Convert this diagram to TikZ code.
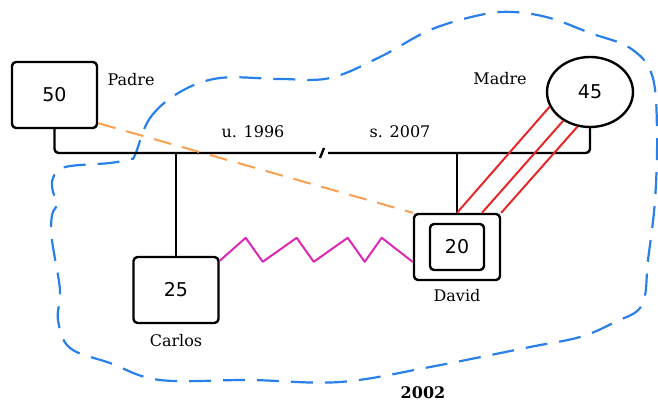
\documentclass[tikz,border=0pt]{standalone}
\usepackage{fontspec}
\setmainfont{DejaVu Serif}
\newfontfamily\numfont{DejaVu Sans}
\usetikzlibrary{shapes.geometric}

\definecolor{blobblue}{RGB}{40,128,232}
\definecolor{hateorange}{RGB}{250,160,80}
\definecolor{tiered}{RGB}{232,40,40}
\definecolor{fightpink}{RGB}{220,40,180}

\begin{document}
\begin{tikzpicture}[x=1pt,y=-1pt,line join=round,
  male/.style={draw,line width=2.4pt,rounded corners=4pt,minimum width=85pt,minimum height=66pt,font=\numfont\fontsize{19}{19}\selectfont},
  female/.style={draw,ellipse,line width=2.4pt,minimum width=86pt,minimum height=70pt,inner sep=0pt,font=\numfont\fontsize{19}{19}\selectfont},
  lbl/.style={font=\fontsize{16}{16}\selectfont,inner sep=0pt},
  rel/.style={line width=2.4pt,rounded corners=4pt},
  tie/.style={tiered,line width=2pt},
  hate/.style={hateorange,line width=2pt,dash pattern=on 18pt off 11pt},
  fight/.style={fightpink,line width=2pt},
  group/.style={blobblue,line width=2.2pt,dash pattern=on 22pt off 12pt}]

  \useasboundingbox (0,0) rectangle (658,403);

  \draw[group] plot[smooth cycle,tension=0.6] coordinates {
    (135,155) (150,118) (180,92) (220,78) (280,79) (330,78) (380,57)
    (430,30) (480,15) (513,12) (550,18) (590,33) (630,48) (652,75)
    (657,130) (655,200) (648,260) (642,305) (615,322) (580,337)
    (530,347) (430,367) (340,382) (250,380) (160,380) (110,363)
    (70,348) (58,320) (60,290) (52,240) (52,215) (58,203) (53,192)
    (53,178) (65,167) (110,163) (130,159)};

  \node[male]   (padre)  at (54.5,95) {50};
  \node[female] (madre)  at (590,92)  {45};
  \node[male]   (carlos) at (176,290) {25};
  \node[male,minimum width=86pt] (david) at (457,247) {};
  \node[male,minimum width=54pt,minimum height=46pt] (davidin) at (david.center) {20};

  \node[lbl] (padrel)  at (131,80)  {Padre};
  \node[lbl] (madrel)  at (500,79)  {Madre};
  \node[lbl] (carlosl) at (176,341) {Carlos};
  \node[lbl] (davidl)  at (457,296) {David};
  \node[lbl] (union)   at (253,132) {u. 1996};
  \node[lbl] (split)   at (400,132) {s. 2007};
  \node[lbl,font=\bfseries\fontsize{16}{16}\selectfont] (year) at (423,393) {2002};

  \coordinate (bar) at (0,153);
  \draw[rel] (padre.south) |- (bar -| madre.south) -- (madre.south);
  \draw[line width=4pt,white] (316,153) -- (328,153);
  \draw[line width=2.4pt] (320,158) -- (324,148);
  \draw[rel] (carlos.north) -- (carlos.north |- bar);
  \draw[rel] (david.north) -- (david.north |- bar);

  \draw[hate] ([yshift=6pt]padre.south east) -- (david.north west);

  \draw[tie] (madre.200) -- (david.north);
  \draw[tie] (madre.227) -- ([xshift=25pt]david.north);
  \draw[tie] (madre.250) -- (david.north east);

  \draw[fight] ([yshift=-5pt]carlos.north east) -- ++(26,-23) -- ++(17,24)
    -- ++(34,-24) -- ++(17,24) -- ++(34,-24) -- ++(17,24) -- ++(17,-24)
    -- ([yshift=-15pt]david.west);
\end{tikzpicture}
\end{document}
